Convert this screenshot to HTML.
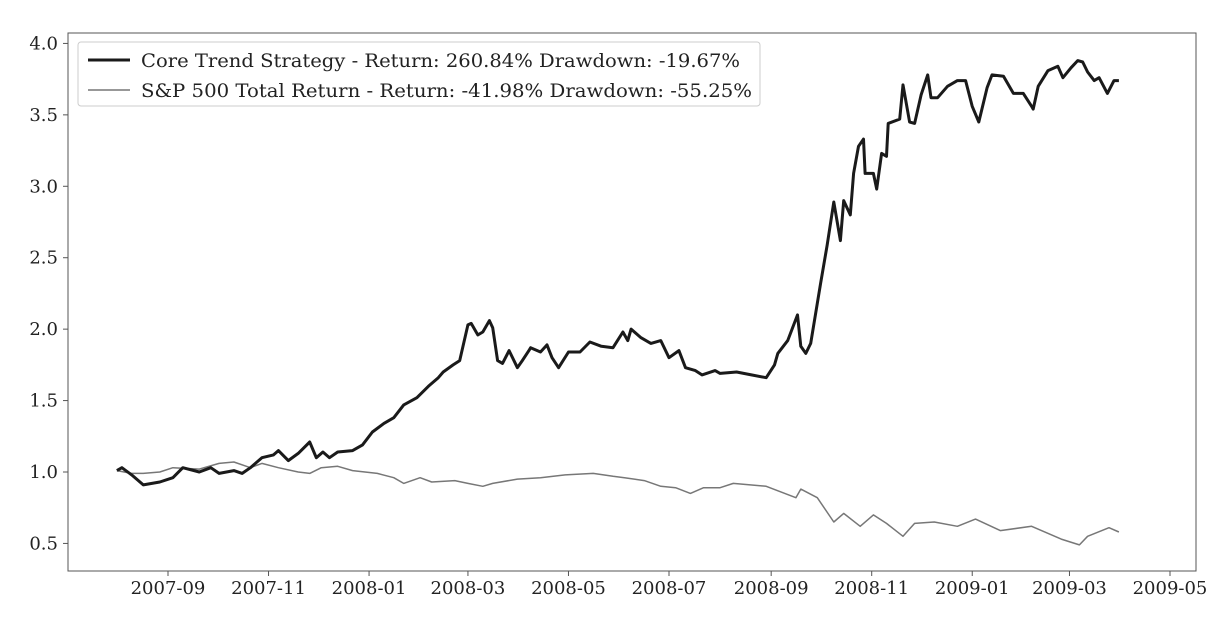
<!DOCTYPE html>
<html><head><meta charset="utf-8">
<style>
html,body{margin:0;padding:0;background:#fff;}
svg{display:block;font-family:"DejaVu Serif","Liberation Serif",serif;}
</style></head>
<body>
<svg id="chart" width="1222" height="618" viewBox="0 0 1222 618" xmlns="http://www.w3.org/2000/svg">
<rect x="68" y="33" width="1128" height="538" fill="#fff" stroke="#555" stroke-width="1"/>
<g id="yaxis"></g>
<g id="xaxis"></g>
<g id="series"></g>
<g>
<rect x="78" y="42" width="682" height="64" rx="3" fill="#fff" stroke="#ccc"/>
<line x1="88" y1="60" x2="130" y2="60" stroke="#1a1a1a" stroke-width="3"/>
<text x="141" y="67" font-size="19" fill="#222" textLength="599" lengthAdjust="spacingAndGlyphs">Core Trend Strategy - Return: 260.84% Drawdown: -19.67%</text>
<line x1="88" y1="90" x2="130" y2="90" stroke="#777" stroke-width="1.5"/>
<text x="141" y="97" font-size="19" fill="#222" textLength="611" lengthAdjust="spacingAndGlyphs">S&amp;P 500 Total Return - Return: -41.98% Drawdown: -55.25%</text>
</g>
</svg>
<script>
const startDate = "2007-08-01";
const yTicks = [0.5,1.0,1.5,2.0,2.5,3.0,3.5,4.0];
const yTickLabels = ["0.5","1.0","1.5","2.0","2.5","3.0","3.5","4.0"];
const xTickDates = ["2007-09-01","2007-11-01","2008-01-01","2008-03-01","2008-05-01","2008-07-01","2008-09-01","2008-11-01","2009-01-01","2009-03-01","2009-05-01"];
const xTickLabels = ["2007-09","2007-11","2008-01","2008-03","2008-05","2008-07","2008-09","2008-11","2009-01","2009-03","2009-05"];
const strategyDays = [0,3,9,16,26,34,40,50,57,62,71,76,81,88,95,98,104,110,117,121,125,129,134,143,149,155,162,168,174,182,189,195,198,204,208,213,215,219,222,226,228,231,234,238,243,246,250,251,257,261,264,268,274,281,287,294,301,307,310,312,318,324,330,335,341,345,351,355,363,366,376,385,394,399,401,407,413,415,418,421,425,427,431,435,439,441,445,447,450,453,454,459,461,464,467,468,475,477,481,484,488,492,494,498,504,510,515,519,523,528,531,538,544,550,555,556,559,565,571,574,579,583,586,589,593,596,601,605,608];
const strategyValues = [1.01,1.03,0.98,0.91,0.93,0.96,1.03,1.00,1.03,0.99,1.01,0.99,1.03,1.10,1.12,1.15,1.08,1.13,1.21,1.10,1.14,1.10,1.14,1.15,1.19,1.28,1.34,1.38,1.47,1.52,1.60,1.66,1.70,1.75,1.78,2.03,2.04,1.96,1.98,2.06,2.01,1.78,1.76,1.85,1.73,1.78,1.85,1.87,1.84,1.89,1.80,1.73,1.84,1.84,1.91,1.88,1.87,1.98,1.92,2.00,1.94,1.90,1.92,1.80,1.85,1.73,1.71,1.68,1.71,1.69,1.70,1.68,1.66,1.75,1.83,1.92,2.10,1.88,1.83,1.90,2.18,2.32,2.59,2.89,2.62,2.90,2.80,3.09,3.28,3.33,3.09,3.09,2.98,3.23,3.21,3.44,3.47,3.71,3.45,3.44,3.64,3.78,3.62,3.62,3.70,3.74,3.74,3.56,3.45,3.69,3.78,3.77,3.65,3.65,3.56,3.54,3.70,3.81,3.84,3.76,3.83,3.88,3.87,3.80,3.74,3.76,3.65,3.74,3.74];
const spDays = [0,9,16,26,34,50,62,71,81,88,98,110,117,124,134,143,158,168,174,184,191,205,213,222,228,243,257,272,289,301,308,320,330,339,348,356,366,374,394,412,415,425,435,441,451,459,467,477,484,496,510,521,536,555,573,584,589,602,608];
const spValues = [1.01,0.99,0.99,1.00,1.03,1.02,1.06,1.07,1.03,1.06,1.03,1.00,0.99,1.03,1.04,1.01,0.99,0.96,0.92,0.96,0.93,0.94,0.92,0.90,0.92,0.95,0.96,0.98,0.99,0.97,0.96,0.94,0.90,0.89,0.85,0.89,0.89,0.92,0.90,0.82,0.88,0.82,0.65,0.71,0.62,0.70,0.64,0.55,0.64,0.65,0.62,0.67,0.59,0.62,0.53,0.49,0.55,0.61,0.58];

const NS = "http://www.w3.org/2000/svg";
const t0 = Date.parse("2007-09-01");
const x0px = 168, pxPerDay = 1002/608;
const startOffset = (Date.parse(startDate) - t0)/86400000;
function xDate(s){ return x0px + ((Date.parse(s)-t0)/86400000)*pxPerDay; }
function xDay(d){ return x0px + (startOffset + d)*pxPerDay; }
function yScale(v){ return 472 - (v-1)*142.857; }
function mk(tag, attrs, parent){ const e=document.createElementNS(NS,tag); for(const k in attrs) e.setAttribute(k,attrs[k]); parent.appendChild(e); return e; }

const yax=document.getElementById('yaxis');
yTicks.forEach((v,i)=>{
  const y=yScale(v);
  const tk=mk('line',{x1:63,x2:68,y1:y,y2:y,stroke:'#555'},yax);
  
  
  const t=mk('text',{x:58,y:y+6,'text-anchor':'end','font-size':18,fill:'#222'},yax);
  t.textContent=yTickLabels[i];
  
  
});
const xax=document.getElementById('xaxis');
xTickDates.forEach((d,i)=>{
  const x=xDate(d);
  const tk=mk('line',{x1:x,x2:x,y1:571,y2:576,stroke:'#555'},xax);
  
  
  const t=mk('text',{x:x,y:594,'text-anchor':'middle','font-size':18,fill:'#222'},xax);
  t.textContent=xTickLabels[i];
  
  
});
const sg=document.getElementById('series');
function path(days, vals){ return days.map((d,i)=>(i?'L':'M')+xDay(d).toFixed(1)+','+yScale(vals[i]).toFixed(1)).join(' '); }
const sp=mk('path',{d:path(spDays,spValues),fill:'none',stroke:'#777','stroke-width':1.5,'stroke-linejoin':'round'},sg);


const st=mk('path',{d:path(strategyDays,strategyValues),fill:'none',stroke:'#1a1a1a','stroke-width':3,'stroke-linejoin':'round'},sg);


</script>
</body></html>
